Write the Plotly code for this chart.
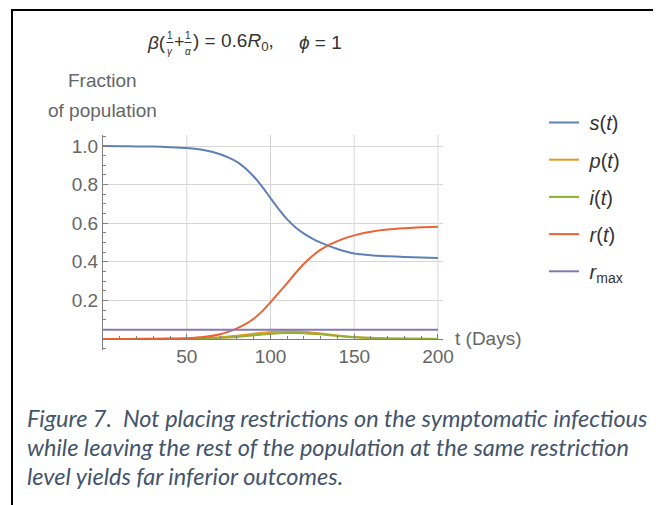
import plotly.graph_objects as go

# ---------------- data ----------------
DAYS = [0, 10, 20, 30, 40, 50, 60, 70, 75, 80, 85, 90, 95, 100, 105, 110, 115, 120, 125, 130, 135, 140,
        145, 150, 160, 170, 180, 190, 200]
S_T = [1.0, 0.999, 0.998, 0.997, 0.994, 0.989, 0.979, 0.957, 0.940, 0.918, 0.885, 0.842, 0.790, 0.730,
       0.672, 0.620, 0.578, 0.546, 0.520, 0.499, 0.481, 0.466, 0.453, 0.443, 0.434, 0.429, 0.425, 0.422, 0.420]
P_T = [0.0, 0.0, 0.0, 0.001, 0.001, 0.002, 0.005, 0.009, 0.013, 0.017, 0.022, 0.027, 0.032, 0.036,
       0.039, 0.040, 0.039, 0.037, 0.033, 0.028, 0.023, 0.018, 0.014, 0.011, 0.006, 0.003, 0.002, 0.001, 0.0]
I_T = [0.0, 0.0, 0.0, 0.0, 0.0, 0.001, 0.003, 0.006, 0.008, 0.011, 0.015, 0.019, 0.023, 0.027,
       0.030, 0.031, 0.031, 0.030, 0.027, 0.024, 0.020, 0.016, 0.012, 0.009, 0.005, 0.003, 0.001, 0.001, 0.0]
R_T = [0.0, 0.0, 0.001, 0.001, 0.002, 0.004, 0.010, 0.025, 0.038, 0.055, 0.077, 0.105, 0.143, 0.190,
       0.240, 0.290, 0.342, 0.390, 0.430, 0.463, 0.488, 0.507, 0.524, 0.537, 0.556, 0.567, 0.574, 0.579, 0.582]
R_MAX = 0.048

SERIES_NAMES = ["<i>s</i>(<i>t</i>)", "<i>p</i>(<i>t</i>)", "<i>i</i>(<i>t</i>)", "<i>r</i>(<i>t</i>)",
                "<i>r</i><sub>max</sub>"]
X_TICKS = [50, 100, 150, 200]
X_TICK_TEXT = ["50", "100", "150", "200"]
Y_TICKS = [0.2, 0.4, 0.6, 0.8, 1.0]
Y_TICK_TEXT = ["0.2", "0.4", "0.6", "0.8", "1.0"]
X_RANGE = [0, 203]
Y_RANGE = [-0.057, 1.057]

COLORS = ["#5E81B5", "#E19C24", "#8FB032", "#EB6235", "#8778B3"]

# ---------------- layout geometry ----------------
OFF = 8  # page body margin
W, H = 653, 497
ML, MR, MT, MB = 95, 218, 127, 155
PW, PH = W - ML - MR, H - MT - MB


def px(x):  # screen pixel -> paper x
    return (x - OFF - ML) / PW


def py(y):  # screen pixel -> paper y
    return (H - MB - (y - OFF)) / PH


fig = go.Figure()
series = [S_T, P_T, I_T, R_T]
for k, ys in enumerate(series):
    fig.add_trace(go.Scatter(x=DAYS, y=ys, mode="lines", name="&nbsp;" + SERIES_NAMES[k],
                             legendgroup=f"g{k}",
                             line=dict(color=COLORS[k], width=2, shape="spline", smoothing=0.7)))
fig.add_trace(go.Scatter(x=[DAYS[0], DAYS[-1]], y=[R_MAX, R_MAX], mode="lines", name="&nbsp;" + SERIES_NAMES[4],
                         legendgroup="g4", line=dict(color=COLORS[4], width=2)))

GRID = "#d6d6d6"
AXIS = "#808080"
LABEL = "#666666"
FONT = "Liberation Sans"
TITLE_C = "#333333"

shapes = []
for xt in X_TICKS:
    shapes.append(dict(type="line", xref="x", yref="y", x0=xt, x1=xt, y0=0, y1=Y_RANGE[1],
                       line=dict(color=GRID, width=1), layer="below"))
# document box border
shapes.append(dict(type="line", xref="paper", yref="paper", x0=px(12), x1=px(12), y0=py(9), y1=py(510),
                   line=dict(color="black", width=2)))
shapes.append(dict(type="line", xref="paper", yref="paper", x0=px(11), x1=px(665), y0=py(10), y1=py(10),
                   line=dict(color="black", width=2)))
# fraction bars in the title
FRAC_X = (170, 188)
for fx in FRAC_X:
    shapes.append(dict(type="line", xref="paper", yref="paper", x0=px(fx - 3.5), x1=px(fx + 3.5),
                       y0=py(42.5), y1=py(42.5), line=dict(color=TITLE_C, width=1)))

ann = []


def text(x, y, t, size=19, color=LABEL, xanchor="center", family=FONT):
    ann.append(dict(xref="paper", yref="paper", x=px(x), y=py(y), text=t, showarrow=False,
                    xanchor=xanchor, yanchor="middle", borderpad=0,
                    font=dict(family=family, size=size, color=color)))


text(102, 80, "Fraction")
text(102, 110, "of population")
text(454, 338, "t (Days)", xanchor="left")

text(146, 42, "<i>β</i>(", size=19, color=TITLE_C, xanchor="left")
text(FRAC_X[0], 35, "1", size=10, color=TITLE_C)
text(FRAC_X[0], 51, "<i>γ</i>", size=10, color=TITLE_C)
text(179, 42, "+", size=18, color=TITLE_C)
text(FRAC_X[1], 35, "1", size=10, color=TITLE_C)
text(FRAC_X[1], 51, "<i>α</i>", size=10, color=TITLE_C)
text(192, 42, ") = 0.6<i>R</i><sub>0</sub>,", size=19, color=TITLE_C, xanchor="left")
text(298, 42, "<i>ϕ</i> = 1", size=19, color=TITLE_C, xanchor="left")

CAP = "#44546A"
CAP_FONT = "Lato"
caption = ["Figure 7.  Not placing restrictions on the symptomatic infectious",
           "while leaving the rest of the population at the same restriction",
           "level yields far inferior outcomes."]
for j, line in enumerate(caption):
    text(26, 418 + 29 * j, f"<i>{line}</i>", size=23.5, color=CAP, xanchor="left", family=CAP_FONT)

fig.update_layout(
    width=W, height=H,
    margin=dict(l=ML, r=MR, t=MT, b=MB),
    paper_bgcolor="white", plot_bgcolor="white",
    font=dict(family=FONT, color=LABEL),
    shapes=shapes, annotations=ann,
    showlegend=True,
    legend=dict(x=px(544), y=py(103), xanchor="left", yanchor="top",
                font=dict(family=FONT, size=20, color="#333333"),
                tracegroupgap=8.2, itemwidth=30, bgcolor="rgba(0,0,0,0)"),
    xaxis=dict(range=X_RANGE, anchor="free", position=py(339), showline=True, linecolor=AXIS, linewidth=1,
               ticks="inside", ticklen=5, tickcolor=AXIS, tickvals=X_TICKS, ticktext=X_TICK_TEXT,
               tickfont=dict(size=19, color=LABEL, family=FONT), showgrid=False, zeroline=False,
               minor=dict(ticks="inside", ticklen=3, tickmode="linear", tick0=0, dtick=10, tickcolor=AXIS,
                          showgrid=False)),
    yaxis=dict(range=Y_RANGE, showline=True, linecolor=AXIS, linewidth=1,
               ticks="inside", ticklen=5, tickcolor=AXIS, tickvals=Y_TICKS, ticktext=Y_TICK_TEXT,
               tickfont=dict(size=19, color=LABEL, family=FONT), showgrid=True, gridcolor=GRID,
               zeroline=False,
               minor=dict(ticks="inside", ticklen=3, tickmode="linear", tick0=0, dtick=0.05, tickcolor=AXIS,
                          showgrid=False)),
)

fig.write_html("out.html")
